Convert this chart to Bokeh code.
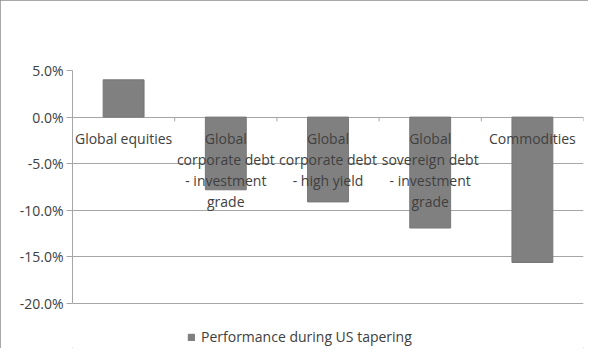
import numpy as np
from bokeh.plotting import figure
from bokeh.models import (ColumnDataSource, FixedTicker, NumeralTickFormatter,
                          Legend, LegendItem, Range1d)
from bokeh.core.properties import value
from bokeh.embed import file_html
from bokeh.resources import INLINE

categories = ["Global equities",
              "Global\ncorporate debt\n- investment\ngrade",
              "Global\ncorporate debt\n- high yield",
              "Global\nsovereign debt\n- investment\ngrade",
              "Commodities"]
performance = [0.040, -0.078, -0.091, -0.119, -0.156]
y_ticks = [-0.20, -0.15, -0.10, -0.05, 0.0, 0.05]
series_name = "Performance during US tapering"

FONT = "Open Sans"
FSIZE = "14px"
TEXT_COLOR = "#404040"
GRID = "#a6a6a6"
BAR = "#808080"

W, H = 588, 348
TOP, BOTTOM, LEFT, RIGHT = 70, 0, 72, 5
AXIS_PX = 233  # pixel height of the value axis (5% .. -20%)

n = len(categories)
centers = np.arange(n) + 0.5
src = ColumnDataSource(dict(x=centers, top=performance, label=categories))

y_lo, y_hi = min(y_ticks), max(y_ticks)
frame_h = H - TOP - BOTTOM
span = (y_hi - y_lo) * frame_h / AXIS_PX

p = figure(width=W, height=H, output_backend="svg", toolbar_location=None,
           x_range=Range1d(0, n), y_range=Range1d(y_hi - span, y_hi),
           min_border_left=LEFT, min_border_right=RIGHT, min_border_top=TOP,
           min_border_bottom=BOTTOM)
p.outline_line_color = None
p.styles = {"outline": "1px solid #8c8c8c", "outline-offset": "-1px"}

bars = p.vbar(x="x", top="top", bottom=0, width=0.4, source=src,
              fill_color=BAR, line_color="#777777", line_width=1)

# category tick marks on the zero line
bounds = np.arange(n + 1).astype(float)
tick_len = 0.0045
p.segment(x0=bounds, x1=bounds, y0=[0.0] * (n + 1), y1=[-tick_len] * (n + 1),
          line_color=GRID, line_width=1)

# category labels next to axis
p.text(x="x", y=0, text="label", source=src, text_font=value(FONT),
       text_font_size=FSIZE, text_color=TEXT_COLOR, text_align="center",
       text_baseline="top", y_offset=12, text_line_height=1.1)

p.xaxis.visible = False
p.xgrid.visible = False
p.ygrid.grid_line_color = GRID
p.ygrid.grid_line_width = 1
p.ygrid.bounds = (0, n)

ya = p.yaxis[0]
ya.ticker = FixedTicker(ticks=y_ticks)
ya.formatter = NumeralTickFormatter(format="0.0%")
ya.bounds = (y_lo, y_hi)
ya.axis_line_color = GRID
ya.major_tick_line_color = GRID
ya.major_tick_out = 6
ya.major_tick_in = 0
ya.minor_tick_line_color = None
ya.major_label_standoff = 3
ya.major_label_text_font = FONT
ya.major_label_text_font_size = FSIZE
ya.major_label_text_color = TEXT_COLOR

legend = Legend(items=[LegendItem(label=series_name, renderers=[bars])],
                location=(115, 2), orientation="horizontal",
                padding=0, margin=0, spacing=0, border_line_color=None,
                background_fill_alpha=0, glyph_width=8, glyph_height=8,
                label_standoff=6, label_text_font=FONT,
                label_text_font_size=FSIZE, label_text_color=TEXT_COLOR)
p.add_layout(legend, "center")

open("out.html", "w").write(file_html(p, INLINE))
